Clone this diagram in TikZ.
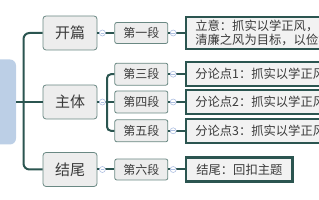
\documentclass[tikz,border=0pt]{standalone}
\usepackage{fontspec}
\setmainfont{Noto Sans CJK SC}
\usetikzlibrary{positioning}
\definecolor{cteal}{HTML}{2B5550}
\definecolor{cedge}{HTML}{6A8883}
\definecolor{cfill}{HTML}{EDEDED}
\definecolor{cnote}{HTML}{F2F2F2}
\definecolor{croot}{HTML}{BCCFE6}
\definecolor{cfold}{HTML}{AFC0E2}
\definecolor{ctext}{HTML}{3A3A3A}
\tikzset{
  every picture/.style={x=1pt, y=-1pt, text=ctext},
  root/.style={fill=croot, rounded corners=6pt, minimum width=36pt, minimum height=85pt},
  topic/.style={draw=cedge, fill=cfill, rounded corners=3pt, line width=0.8pt, minimum width=54pt, minimum height=34pt, font=\fontsize{15}{17}\selectfont},
  seg/.style={draw=cedge, fill=cfill, rounded corners=2pt, line width=0.8pt, minimum width=53pt, minimum height=21pt, inner sep=2pt, font=\fontsize{12}{14}\selectfont},
  note/.style={draw=cteal, fill=cnote, line width=2.2pt, minimum height=24pt, inner xsep=9pt, inner ysep=3pt, align=left, font=\fontsize{12.3}{14}\selectfont},
  link/.style={draw=cteal, line width=2pt},
  fold/.style={circle, draw=cfold, fill=white, line width=0.6pt, minimum size=6pt, inner sep=0pt,
    path picture={\draw[cfold, line width=0.6pt] ([xshift=-1.8pt]path picture bounding box.center) -- ([xshift=1.8pt]path picture bounding box.center);}},
}
\begin{document}
\begin{tikzpicture}[node distance=17pt]
  \useasboundingbox (0,0) rectangle (319,200);
  \clip (0,0) rectangle (319,200);
  % main branches
  \node[root] (root) at (-2,102) {};
  \node[topic] (kp) at (70,33) {开篇};
  \node[topic] (zt) at (70,102) {主体};
  \node[topic] (jw) at (70,169.5) {结尾};
  \coordinate (spine) at (23.5,102);
  \draw[link, rounded corners=6pt] (kp.west) -| (spine) |- (jw.west);
  \draw[link] (root) -- (zt);
  % paragraphs
  \node[seg, right=of kp] (d1) {第一段};
  \node[seg, right=of zt, minimum height=22pt] (d4) {第四段};
  \node[seg, above=5pt of d4, minimum height=22pt] (d3) {第三段};
  \node[seg, below=6pt of d4, minimum height=22pt] (d5) {第五段};
  \node[seg, right=of jw] (d6) {第六段};
  \coordinate (fork) at (107,102);
  \draw[link] (kp) -- (d1);
  \draw[link] (jw) -- (d6);
  \draw[link] (zt) -- (d4);
  \draw[link, rounded corners=4pt] (d3.west) -| (fork) |- (d5.west);
  % notes
  \node[note, right=of d1, text width=150pt, font=\fontsize{12.3}{14.5}\selectfont] (n1) {立意：抓实以学正风，以\\清廉之风为目标，以俭朴};
  \node[note, right=of d3, text width=150pt] (n3) {分论点1：抓实以学正风};
  \node[note, right=of d4, text width=150pt] (n4) {分论点2：抓实以学正风};
  \node[note, right=of d5, text width=150pt] (n5) {分论点3：抓实以学正风};
  \node[note, right=of d6, inner xsep=10pt] (n6) {结尾：回扣主题};
  \foreach \a/\b in {d1/n1, d3/n3, d4/n4, d5/n5, d6/n6}
    \draw[link] (\a) -- (\b);
  % fold markers
  \foreach \a/\b in {kp/d1, zt/d4, jw/d6}
    \node[fold] at ([xshift=5pt]\a.east) {};
  \foreach \a in {d1, d3, d4, d5, d6}
    \node[fold] at ([xshift=5pt]\a.east) {};
\end{tikzpicture}
\end{document}
